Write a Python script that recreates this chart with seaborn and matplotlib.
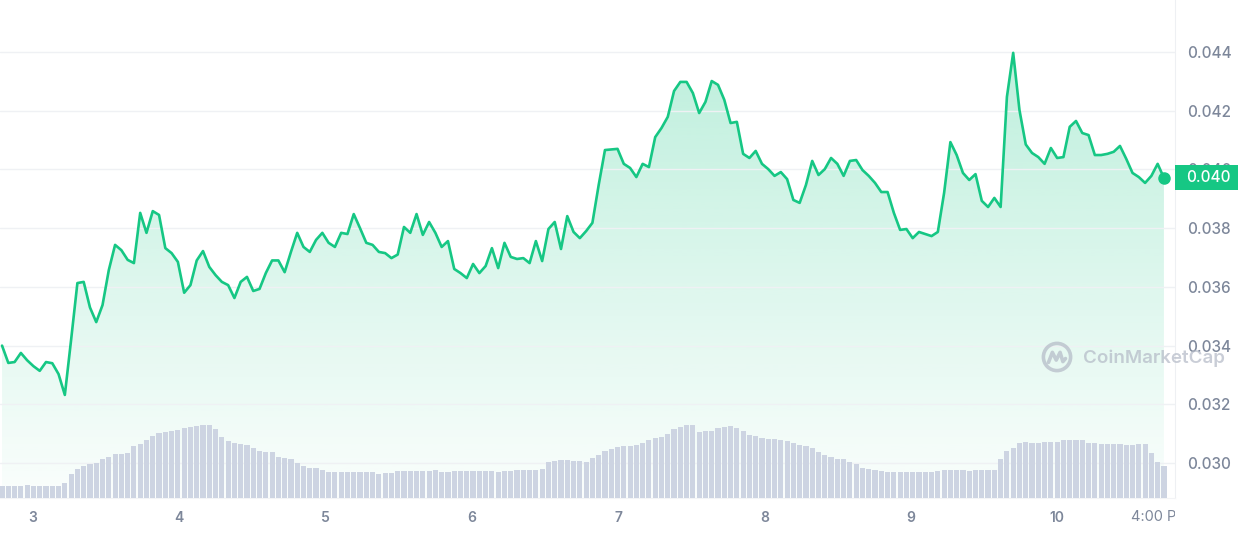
import numpy as np
import pandas as pd
import matplotlib
matplotlib.use('Agg')
import matplotlib.pyplot as plt
import matplotlib.dates as mdates
import matplotlib.colors as mcolors
from matplotlib.patches import Rectangle, Circle
from matplotlib.transforms import Bbox, TransformedBbox, blended_transform_factory
import seaborn as sns

# precio (USD), un punto por hora aprox.
price = [
    0.0340, 0.03341, 0.03344, 0.03375, 0.0335, 0.0333, 0.03314, 0.03344, 0.0334, 0.03303,
    0.03232, 0.0342, 0.03613, 0.03617, 0.0353, 0.0348, 0.03538, 0.03657, 0.03743, 0.03725,
    0.03692, 0.03681, 0.03852, 0.03784, 0.03858, 0.03845, 0.03732, 0.03715, 0.03685, 0.0358,
    0.03606, 0.0369, 0.03722, 0.03668, 0.0364, 0.03617, 0.03606, 0.03562, 0.03617, 0.03634,
    0.03586, 0.03593, 0.03647, 0.0369, 0.0369, 0.0365, 0.03719, 0.03784, 0.03736, 0.03719,
    0.0376, 0.03784, 0.0375, 0.03736, 0.03784, 0.0378, 0.03848, 0.038, 0.0375, 0.03743,
    0.03719, 0.03715, 0.03698, 0.0371, 0.03804, 0.03784, 0.03848, 0.03777, 0.03821, 0.03784,
    0.03736, 0.03756, 0.03661, 0.03647, 0.0363, 0.03678, 0.03647, 0.03671, 0.03732, 0.03664,
    0.0375, 0.03702, 0.03695, 0.03698, 0.03681, 0.03756, 0.03688, 0.03797, 0.03821, 0.03729,
    0.03841, 0.03787, 0.03766, 0.0379, 0.03818, 0.03947, 0.04066, 0.04068, 0.0407, 0.04019,
    0.04005, 0.03974, 0.04019, 0.04008, 0.0411, 0.04141, 0.04179, 0.04267, 0.04298, 0.04298,
    0.0426, 0.04192, 0.0423, 0.04301, 0.04288, 0.04237, 0.04158, 0.04162, 0.04053, 0.04039,
    0.04063, 0.04019, 0.04001, 0.03978, 0.03991, 0.03967, 0.03896, 0.03886, 0.03947, 0.04029,
    0.03981, 0.04001, 0.04039, 0.04019, 0.03978, 0.04029, 0.04032, 0.03998, 0.03978, 0.03954,
    0.03923, 0.03923, 0.03852, 0.03794, 0.03797, 0.03766, 0.03787, 0.0378, 0.03773, 0.03787,
    0.0392, 0.04093, 0.04049, 0.03988, 0.03964, 0.03984, 0.03893, 0.03872, 0.03903, 0.03872,
    0.04247, 0.04397, 0.04202, 0.04085, 0.04056, 0.04042, 0.04019, 0.04073, 0.04039, 0.04042,
    0.04145, 0.04165, 0.04124, 0.04117, 0.04049, 0.04049, 0.04053, 0.0406, 0.0408, 0.04036,
    0.03988, 0.03974, 0.03954, 0.03978, 0.04019, 0.03971,
]

# volumen (millones)
volume = [
    1.2, 1.2, 1.2, 1.2, 1.3, 1.2, 1.2, 1.2, 1.2, 1.2,
    1.53, 2.4, 2.9, 3.2, 3.4, 3.53, 3.9, 4.13, 4.4, 4.43,
    4.53, 5.2, 5.43, 5.8, 6.23, 6.47, 6.63, 6.73, 6.8, 6.97,
    7.1, 7.2, 7.33, 7.33, 6.9, 6.13, 5.73, 5.47, 5.37, 5.33,
    5.03, 4.73, 4.63, 4.63, 4.07, 3.97, 3.87, 3.47, 3.23, 3.03,
    2.97, 2.8, 2.63, 2.57, 2.57, 2.57, 2.57, 2.57, 2.57, 2.57,
    2.43, 2.53, 2.53, 2.67, 2.73, 2.73, 2.73, 2.73, 2.73, 2.8,
    2.63, 2.63, 2.73, 2.73, 2.73, 2.73, 2.73, 2.73, 2.73, 2.63,
    2.73, 2.73, 2.83, 2.83, 2.83, 2.83, 2.93, 3.6, 3.73, 3.83,
    3.83, 3.73, 3.73, 3.6, 4.03, 4.3, 4.73, 4.87, 5.13, 5.23,
    5.23, 5.33, 5.53, 5.8, 5.97, 6.07, 6.4, 6.9, 7.13, 7.33,
    7.33, 6.63, 6.7, 6.7, 6.97, 7.13, 7.23, 6.97, 6.7, 6.3,
    6.2, 5.97, 5.9, 5.9, 5.8, 5.7, 5.47, 5.3, 5.2, 5.0,
    4.57, 4.3, 4.13, 3.9, 3.87, 3.6, 3.4, 2.97, 2.9, 2.8,
    2.73, 2.63, 2.63, 2.63, 2.63, 2.63, 2.63, 2.63, 2.63, 2.7,
    2.8, 2.8, 2.8, 2.8, 2.73, 2.8, 2.8, 2.8, 2.8, 3.87,
    4.7, 5.03, 5.53, 5.63, 5.53, 5.53, 5.63, 5.63, 5.63, 5.8,
    5.8, 5.8, 5.8, 5.53, 5.47, 5.4, 5.4, 5.4, 5.4, 5.3,
    5.3, 5.4, 5.4, 4.47, 3.63, 3.23,
]

start_time = '2023-06-02 18:55'
end_time = '2023-06-10 17:32'
x_left = '2023-06-02 18:35'
x_right = '2023-06-10 19:21'

day_ticks = ['2023-06-03', '2023-06-04', '2023-06-05', '2023-06-06',
             '2023-06-07', '2023-06-08', '2023-06-09', '2023-06-10']
day_labels = ['3', '4', '5', '6', '7', '8', '9', '10']
hour_tick = '2023-06-10 16:00'
hour_label = '4:00 PM'

price_ticks = [0.030, 0.032, 0.034, 0.036, 0.038, 0.040, 0.042, 0.044]
price_lim = (0.02881, 0.04577)
tag_label = '0.040'
watermark = 'CoinMarketCap'

green = '#16c784'
gray = '#7d879a'
bar_color = '#cdd4e2'
wm_color = '#b3b9c6'

times = pd.date_range(start_time, end_time, periods=len(price))
df = pd.DataFrame({'time': times, 'price': price, 'volume': volume})

sns.set_style('white')
plt.rcParams['font.family'] = ['Inter', 'DejaVu Sans']

fig = plt.figure(figsize=(12.38, 5.33), dpi=100)
ax = fig.add_axes([0, 35 / 533, 1175 / 1238, 498 / 533])

# relleno degradado bajo la linea
fill = ax.fill_between(df['time'], df['price'], price_lim[0], facecolor='none', edgecolor='none')
xnum = mdates.date2num(times)
grad = np.zeros((256, 1, 4))
grad[:, :, :3] = mcolors.to_rgb(green)
grad[:, 0, 3] = np.linspace(0.02, 0.28, 256)
im = ax.imshow(grad, extent=[xnum[0], xnum[-1], price_lim[0], 0.044],
               origin='lower', aspect='auto', zorder=1)
im.set_clip_path(fill.get_paths()[0], transform=ax.transData)

sns.lineplot(data=df, x='time', y='price', ax=ax, color=green, linewidth=1.9,
             solid_joinstyle='round', zorder=3)
ax.plot(times[-1], price[-1], 'o', color=green, ms=8, zorder=4)

ax.set_xlim(pd.Timestamp(x_left), pd.Timestamp(x_right))
ax.set_ylim(*price_lim)
ax.set_xlabel('')
ax.set_ylabel('')

# barras de volumen
ax2 = ax.twinx()
spacing = (xnum[-1] - xnum[0]) / (len(xnum) - 1)
ax2.bar(times, df['volume'], width=spacing * 0.82, color=bar_color, linewidth=0)
ax2.set_ylim(0, max(volume) * 6.8)
ax2.set_yticks([])
for s in ax2.spines.values():
    s.set_visible(False)

ax.yaxis.tick_right()
ax.set_yticks(price_ticks)
ax.set_yticklabels([f'{v:.3f}' for v in price_ticks])
ax.tick_params(axis='y', length=0, pad=8.5, labelsize=11, labelcolor=gray)
for lbl in ax.get_yticklabels():
    lbl.set_fontweight('medium')
ax.set_xticks(pd.to_datetime(day_ticks))
ax.set_xticklabels(day_labels)
ax.tick_params(axis='x', length=0, pad=9, labelsize=10, labelcolor=gray)
for lbl in ax.get_xticklabels():
    lbl.set_fontweight('semibold')

ax.grid(axis='y', color='#eff1f4', linewidth=1)
ax.grid(axis='x', visible=False)
ax.set_axisbelow(False)
for side in ['top', 'left']:
    ax.spines[side].set_visible(False)
ax.spines['right'].set_color('#eef0f3')
ax.spines['bottom'].set_color('#f3f4f6')

# etiqueta de la hora, recortada en el borde del grafico
trans_x = blended_transform_factory(ax.transData, ax.transAxes)
t = ax.annotate(hour_label, xy=(mdates.date2num(pd.Timestamp(hour_tick)), -0.038),
                xycoords=trans_x, xytext=(4, 0), textcoords='offset points',
                ha='center', va='center', fontsize=10.5, color=gray, annotation_clip=False)
t.set_clip_on(True)
t.set_clip_box(TransformedBbox(Bbox([[0, -0.2], [1, 1]]), ax.transAxes))

# etiqueta del precio actual
trans_y = blended_transform_factory(ax.transAxes, ax.transData)
ax.add_patch(Rectangle((1.0, price[-1] - 0.000425), 0.07, 0.00085, transform=trans_y,
                       facecolor=green, edgecolor='none', clip_on=False, zorder=5))
ax.text(1.0 + 11 / 1175, price[-1], tag_label, transform=trans_y, color='white',
        fontsize=11, fontweight='medium', ha='left', va='center', clip_on=False, zorder=6)

# marca de agua
lax = fig.add_axes([1040 / 1238, (533 - 374) / 533, 34 / 1238, 34 / 533])
lax.set_xlim(-1.1, 1.1)
lax.set_ylim(-1.1, 1.1)
lax.axis('off')
lax.add_patch(Circle((0, 0), 0.88, fill=False, lw=2.6, ec=wm_color, alpha=0.7))
lax.plot([-0.55, -0.3, -0.05, 0.2, 0.38, 0.55], [-0.35, 0.3, -0.2, 0.3, -0.3, -0.1],
         color=wm_color, lw=2.6, alpha=0.7, solid_joinstyle='round', solid_capstyle='round')
fig.text(1083 / 1238, (533 - 358) / 533, watermark, fontsize=13.5, fontweight='semibold',
         color=wm_color, alpha=0.7, ha='left', va='center')

fig.savefig('out.png', dpi=100, facecolor='white')
